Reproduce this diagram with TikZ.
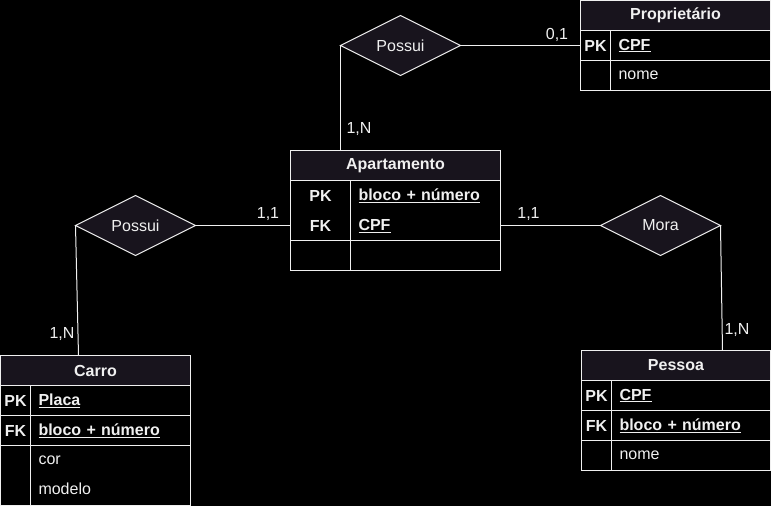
\documentclass[tikz,border=0pt]{standalone}
\usepackage{fontspec}
\setmainfont{Liberation Sans}
\usetikzlibrary{positioning,shapes.geometric}
\definecolor{erline}{RGB}{240,240,240}
\definecolor{erhead}{RGB}{24,20,29}
\definecolor{ertext}{RGB}{240,240,240}

\begin{document}
\begin{tikzpicture}[
    x=1pt, y=-1pt,
    line width=1pt,
    every node/.style={text=ertext, font=\fontsize{16}{19}\selectfont},
    tblhead/.style={rectangle, draw=erline, fill=erhead, font=\fontsize{16}{19}\selectfont\bfseries, minimum height=30pt, inner sep=0pt, outer sep=0pt},
    keycell/.style={rectangle, draw=erline, fill=black, font=\fontsize{16}{19}\selectfont\bfseries, minimum height=30pt, inner sep=0pt, outer sep=0pt, align=center},
    fieldcell/.style={rectangle, draw=erline, fill=black, minimum height=30pt, inner xsep=8pt, inner ysep=0pt, outer sep=0pt, align=left},
    pkfield/.style={fieldcell, font=\fontsize{16}{19}\selectfont\bfseries},
    relbox/.style={diamond, draw=erline, fill=erhead, minimum width=120pt, minimum height=60pt, inner sep=0pt, outer sep=0pt}
]

\useasboundingbox (0,0) rectangle (771,506);
\fill[black] (0,0) rectangle (771,506);

% Apartamento
\node[tblhead, minimum width=210pt] (apto) at (395.5,165.5) {Apartamento};
\node[keycell, minimum width=60pt, minimum height=60pt, below right=0pt and 0pt of apto.south west] (aptoK1) {PK\\[11pt]FK};
\node[pkfield, text width=134pt, minimum height=60pt, right=0pt of aptoK1] (aptoF1) {\underline{bloco + número}\\[11pt]\underline{CPF}};
\node[keycell, minimum width=60pt, below=0pt of aptoK1] (aptoK2) {};
\node[fieldcell, text width=134pt, right=0pt of aptoK2] (aptoF2) {};

% Proprietario
\node[tblhead, minimum width=190pt] (prop) at (675.5,15.5) {Proprietário};
\node[keycell, minimum width=30pt, below right=0pt and 0pt of prop.south west] (propK1) {PK};
\node[pkfield, text width=144pt, right=0pt of propK1] (propF1) {\underline{CPF}};
\node[keycell, minimum width=30pt, below=0pt of propK1] (propK2) {};
\node[fieldcell, text width=144pt, right=0pt of propK2] (propF2) {nome};

% Carro
\node[tblhead, minimum width=190pt] (carro) at (95.5,370.5) {Carro};
\node[keycell, minimum width=30pt, below right=0pt and 0pt of carro.south west] (carroK1) {PK};
\node[pkfield, text width=144pt, right=0pt of carroK1] (carroF1) {\underline{Placa}};
\node[keycell, minimum width=30pt, below=0pt of carroK1] (carroK2) {FK};
\node[pkfield, text width=144pt, right=0pt of carroK2] (carroF2) {\underline{bloco + número}};
\node[keycell, minimum width=30pt, minimum height=60pt, below=0pt of carroK2] (carroK3) {};
\node[fieldcell, text width=144pt, minimum height=60pt, right=0pt of carroK3] (carroF3) {cor\\[11pt]modelo};

% Pessoa
\node[tblhead, minimum width=189pt] (pessoa) at (676,365.5) {Pessoa};
\node[keycell, minimum width=30pt, below right=0pt and 0pt of pessoa.south west] (pessoaK1) {PK};
\node[pkfield, text width=143pt, right=0pt of pessoaK1] (pessoaF1) {\underline{CPF}};
\node[keycell, minimum width=30pt, below=0pt of pessoaK1] (pessoaK2) {FK};
\node[pkfield, text width=143pt, right=0pt of pessoaK2] (pessoaF2) {\underline{bloco + número}};
\node[keycell, minimum width=30pt, below=0pt of pessoaK2] (pessoaK3) {};
\node[fieldcell, text width=143pt, right=0pt of pessoaK3] (pessoaF3) {nome};

% Relationships
\node[relbox] (possuiP) at (400.5,45.5) {Possui};
\node[relbox] (possuiC) at (135.5,225.5) {Possui};
\node[relbox] (mora) at (660.5,225.5) {Mora};

\draw[erline] (possuiP.west) -- (possuiP.west |- apto.north);
\draw[erline] (possuiP.east) -- (possuiP.east -| prop.west);
\draw[erline] (possuiC.east) -- (possuiC.east -| apto.west);
\draw[erline] (possuiC.west) -- ([xshift=3pt]possuiC.west |- carro.north);
\draw[erline] (mora.west) -- (mora.west -| apto.east);
\draw[erline] (mora.east) -- ([xshift=2pt]mora.east |- pessoa.north);

% Cardinalities
\node (cardPP) at (557,35) {0,1};
\node (cardPA) at (359,129.5) {1,N};
\node (cardCA) at (268,214) {1,1};
\node (cardCC) at (62,334) {1,N};
\node (cardMA) at (528.5,214) {1,1};
\node (cardMP) at (737,330) {1,N};

\end{tikzpicture}
\end{document}
